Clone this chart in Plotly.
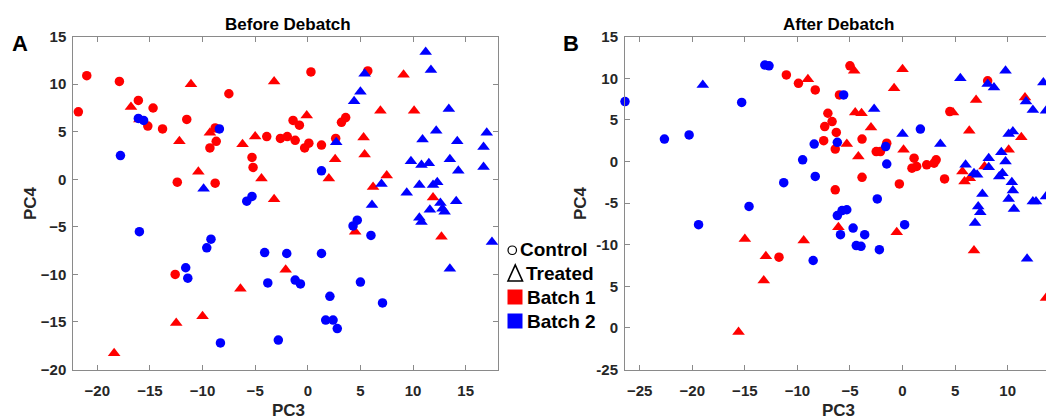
import plotly.graph_objects as go

W, H = 1046, 419

# ---------------- Data: Before Debatch (PC3, PC4) ----------------
before_b1_ctrl_x = [-21.0, -21.8, -17.9, -16.1, -14.7, -15.2, -13.8, -11.5, -7.5, -8.8, -8.7, -9.3, -12.4, -8.8,
                    -5.3, -5.2, -3.9, -2.6, -1.95, -1.4, -0.8, -1.2, -0.3, 0.1, 1.3, 2.65, 3.2, 3.6, 0.3, 5.7, -12.6]
before_b1_ctrl_y = [10.9, 7.1, 10.3, 8.3, 7.5, 5.6, 5.3, 6.3, 9.0, 5.4, 4.0, 3.3, -0.3, -0.4,
                    2.3, 1.25, 4.5, 4.3, 4.5, 6.2, 5.7, 4.1, 3.3, 3.8, 3.6, 4.3, 6.0, 6.5, 11.3, 11.4, -10.0]

before_b1_trt_x = [-11.1, -3.2, -16.8, -16.0, -9.3, -12.2, -5.0, -6.2, -10.4, -4.4, -3.2, -0.1, 6.9, 10.1, 9.1,
                   5.3, 5.4, 2.6, 2.0, 7.5, 6.2, 11.9, 4.5, 12.7, -22.3, -2.1, -6.4, -10.0, -12.5, -18.4]
before_b1_trt_y = [10.0, 10.3, 7.6, 6.3, 4.9, 4.0, 4.5, 3.7, 0.8, 0.1, -2.1, 6.7, 7.2, 7.2, 11.0,
                   4.4, 2.6, 2.1, 0.1, 0.4, -0.8, -1.9, -5.5, -6.05, -7.9, -9.5, -11.5, -14.4, -15.1, -18.3]

before_b2_ctrl_x = [-16.1, -15.6, -8.4, -17.8, -5.8, -5.3, 1.3, -16.0, -9.2, -9.6, -4.1, -2.0, 1.3, -11.6, -11.4,
                    -3.8, -1.2, -0.7, 2.1, 1.7, 2.4, 2.8, 5.0, 7.1, 4.3, 4.7, 6.0, -8.3, -2.8]
before_b2_ctrl_y = [6.4, 6.2, 5.3, 2.5, -2.3, -1.8, 0.9, -5.5, -6.3, -7.2, -7.7, -7.8, -7.8, -9.3, -10.4,
                    -10.9, -10.6, -11.0, -12.3, -14.8, -14.8, -15.7, -10.8, -13.0, -4.9, -4.3, -5.9, -17.2, -16.9]

before_b2_trt_x = [-9.9, 11.2, 11.7, 5.4, 5.0, 4.4, 13.4, 12.2, 10.9, 14.2, 17.0, 16.7, 18.4, 2.7, 9.8, 10.8,
                   11.5, 13.5, 14.3, 16.7, 7.0, 9.4, 10.6, 11.9, 12.3, 12.6, 14.1, 6.1, 10.6, 10.8, 11.6,
                   12.8, 13.0, 17.5, 13.5]
before_b2_trt_y = [-1.0, 13.4, 11.5, 11.1, 9.2, 8.2, 7.4, 5.1, 4.2, 4.0, 4.9, 3.4, 2.9, 3.9, 1.9, 1.5,
                   1.7, 2.1, 0.9, 1.3, -0.5, -1.4, -0.6, -0.6, -0.3, -2.5, -2.3, -2.7, -4.05, -4.5, -3.2,
                   -3.1, -3.4, -6.6, -9.4]

# ---------------- Data: After Debatch (PC3, PC4) ----------------
after_b1_ctrl_x = [-11.05, -9.9, -8.3, -7.1, -6.7, -7.4, -7.5, -6.3, -6.4, -6.4, -5.0, -6.0, -3.85, -1.5, -2.5,
                   -2.1, -3.85, -0.3, 1.1, 0.9, 1.35, 2.3, 3.0, 3.2, 4.0, 4.5, 8.1, -11.75]
after_b1_ctrl_y = [10.4, 9.4, 8.6, 5.8, 4.8, 4.2, 2.5, 3.5, 1.5, -3.4, 11.5, 8.0, 2.7, 2.2, 1.2,
                   1.2, -1.9, -2.7, 0.4, -0.8, -0.6, -0.4, -0.2, 0.2, -2.1, 6.0, 9.7, -11.5]

after_b1_trt_x = [-9.0, -4.6, 0.0, -0.8, -4.5, -3.9, -3.0, -5.3, -4.2, 0.1, 4.8, 7.0, 6.35, 10.1, 11.3, 11.65,
                  5.7, 5.9, 6.4, 7.8, -15.0, -13.0, -13.2, -15.6, -9.4, -6.1, -0.55, 6.8, 13.65]
after_b1_trt_y = [9.9, 10.9, 11.1, 8.8, 5.9, 5.8, 4.1, 2.1, 0.6, 1.4, 5.9, 7.4, 3.7, 1.4, 2.9, 7.7,
                  -1.2, -2.4, -2.0, -0.6, -9.3, -11.4, -14.3, -20.5, -9.5, -7.9, -8.5, -10.7, -16.4]

after_b2_ctrl_x = [-26.4, -22.65, -20.3, -15.3, -13.1, -12.7, -8.4, -9.5, -8.3, -11.3, -14.6, -5.6, -6.2, 1.7,
                   -1.6, -1.5, -2.4, -19.4, -8.5, -6.2, -5.75, -5.3, -5.9, -4.7, -3.6, -4.4, -3.95, -2.2, 0.2]
after_b2_ctrl_y = [7.2, 2.7, 3.2, 7.1, 11.6, 11.5, 2.1, 0.2, -1.8, -2.55, -5.4, 8.0, 2.3, 3.9,
                   1.8, -0.3, -4.5, -7.6, -11.9, -6.5, -5.9, -5.8, -8.8, -8.0, -8.8, -10.1, -10.2, -10.6, -7.6]

after_b2_trt_x = [-19.0, -2.7, 0.0, 3.6, 5.5, 9.8, 8.1, 8.7, 13.4, 11.75, 12.4, 13.65, 10.1, 10.5, 9.4, 9.8,
                  8.2, 6.0, 6.8, 7.1, 8.2, 9.2, 9.5, 10.4, 10.5, 7.6, 10.1, 12.4, 12.7, 13.65, 7.2, 7.4,
                  6.9, 10.6, 11.85]
after_b2_trt_y = [9.2, 6.3, 3.3, 2.1, 10.0, 10.9, 9.3, 8.9, 9.5, 7.2, 6.2, 6.1, 3.3, 3.6, 1.1, 0.0,
                  0.4, -0.4, -1.4, -1.6, -0.7, -1.8, -1.4, -2.5, -3.5, -3.9, -4.5, -4.8, -4.8, -4.2, -5.4, -6.1,
                  -7.4, -5.7, -11.7]

# ---------------- Axis ticks ----------------
left_xticks = [-20, -15, -10, -5, 0, 5, 10, 15]
left_yticks = [-20, -15, -10, -5, 0, 5, 10, 15]
right_xticks = [-25, -20, -15, -10, -5, 0, 5, 10, 15]
right_yticks = [-25, -20, -15, -10, -5, 0, 5, 10, 15]
right_yticklabels = ["-25", "0", "5", "-10", "-5", "0", "5", "10", "15"]

legend_labels = ["Control", "Treated", "Batch 1", "Batch 2"]

RED = "#FF0000"
BLUE = "#0000FF"
FONT = "Liberation Sans, Arial, sans-serif"
TICKC = "#262626"
AXC = "#8a8a8a"


def px(x):
    return x / W


def py(y):
    return 1 - y / H


fig = go.Figure()


def add(xs, ys, color, symbol, xa, ya):
    fig.add_trace(go.Scatter(
        x=xs, y=ys, mode="markers", xaxis=xa, yaxis=ya, showlegend=False, cliponaxis=False,
        marker=dict(color=color, symbol=symbol, size=9.5 if symbol == "circle" else 11,
                    line=dict(width=0)),
        hoverinfo="x+y"))


add(before_b1_ctrl_x, before_b1_ctrl_y, RED, "circle", "x", "y")
add(before_b1_trt_x, before_b1_trt_y, RED, "triangle-up", "x", "y")
add(before_b2_ctrl_x, before_b2_ctrl_y, BLUE, "circle", "x", "y")
add(before_b2_trt_x, before_b2_trt_y, BLUE, "triangle-up", "x", "y")

add(after_b1_ctrl_x, after_b1_ctrl_y, RED, "circle", "x2", "y2")
add(after_b1_trt_x, after_b1_trt_y, RED, "triangle-up", "x2", "y2")
add(after_b2_ctrl_x, after_b2_ctrl_y, BLUE, "circle", "x2", "y2")
add(after_b2_trt_x, after_b2_trt_y, BLUE, "triangle-up", "x2", "y2")

tickfont = dict(family=FONT, size=15, color=TICKC, weight="bold")
common = dict(showgrid=False, zeroline=False, showline=True, linecolor=AXC, linewidth=1,
              ticks="inside", ticklen=5, tickcolor=AXC, tickwidth=1, tickfont=tickfont,
              automargin=False)

ydom = [py(369.5), py(36.7)]

fig.update_layout(
    template="none",
    width=W, height=H, margin=dict(l=0, r=0, t=0, b=0, pad=0, autoexpand=False),
    paper_bgcolor="white", plot_bgcolor="white",
    xaxis=dict(domain=[px(73.3), px(498.3)], range=[-22.28, 18.1], tickvals=left_xticks,
               mirror="ticks", anchor="y", ticklabelstandoff=7, **common),
    yaxis=dict(domain=ydom, range=[-20, 15], tickvals=left_yticks,
               mirror="ticks", anchor="x", ticklabelstandoff=3, **common),
    xaxis2=dict(domain=[px(625), 1.0], range=[-26.4, 13.65], tickvals=right_xticks,
                mirror="ticks", anchor="y2", ticklabelstandoff=7, **common),
    yaxis2=dict(domain=ydom, range=[-25, 15], tickvals=right_yticks, ticktext=right_yticklabels,
                mirror=False, anchor="x2", ticklabelstandoff=3, **common),
)

annos = []


def text(x, y, s, size, xanchor="center", angle=0, color="black"):
    annos.append(dict(x=px(x), y=py(y), xref="paper", yref="paper", text=s, showarrow=False,
                      xanchor=xanchor, yanchor="middle", textangle=angle,
                      font=dict(family=FONT, size=size, color=color, weight="bold")))


text(287.5, 24.5, "Before Debatch", 17)
text(838, 24.5, "After Debatch", 17)
text(20, 43.5, "A", 22)
text(571, 44, "B", 22)
text(288, 410, "PC3", 17, color=TICKC)
text(838, 410, "PC3", 17, color=TICKC)
text(31, 203, "PC4", 17, angle=-90, color=TICKC)
text(581, 203, "PC4", 17, angle=-90, color=TICKC)

# legend
leg_rows = [250, 273.5, 297, 321]
leg_x = [518, 524, 525, 525]
for lbl, yy, xx in zip(legend_labels, leg_rows, leg_x):
    text(xx, yy, lbl, 19, xanchor="left")

shapes = [
    dict(type="circle", xref="paper", yref="paper", x0=px(508), x1=px(516.5), y0=py(254.5), y1=py(246),
         line=dict(color="black", width=1.2), fillcolor="rgba(0,0,0,0)"),
    dict(type="path", xref="paper", yref="paper",
         path=f"M {px(508)} {py(281)} L {px(522.5)} {py(281)} L {px(515.25)} {py(265)} Z",
         line=dict(color="black", width=1.6), fillcolor="rgba(0,0,0,0)"),
    dict(type="rect", xref="paper", yref="paper", x0=px(507.5), x1=px(522.5), y0=py(304.5), y1=py(289.5),
         line=dict(width=0), fillcolor=RED),
    dict(type="rect", xref="paper", yref="paper", x0=px(507.5), x1=px(522.5), y0=py(328.5), y1=py(313.5),
         line=dict(width=0), fillcolor=BLUE),
]

fig.update_layout(annotations=annos, shapes=shapes)

fig.write_html("out.html")
